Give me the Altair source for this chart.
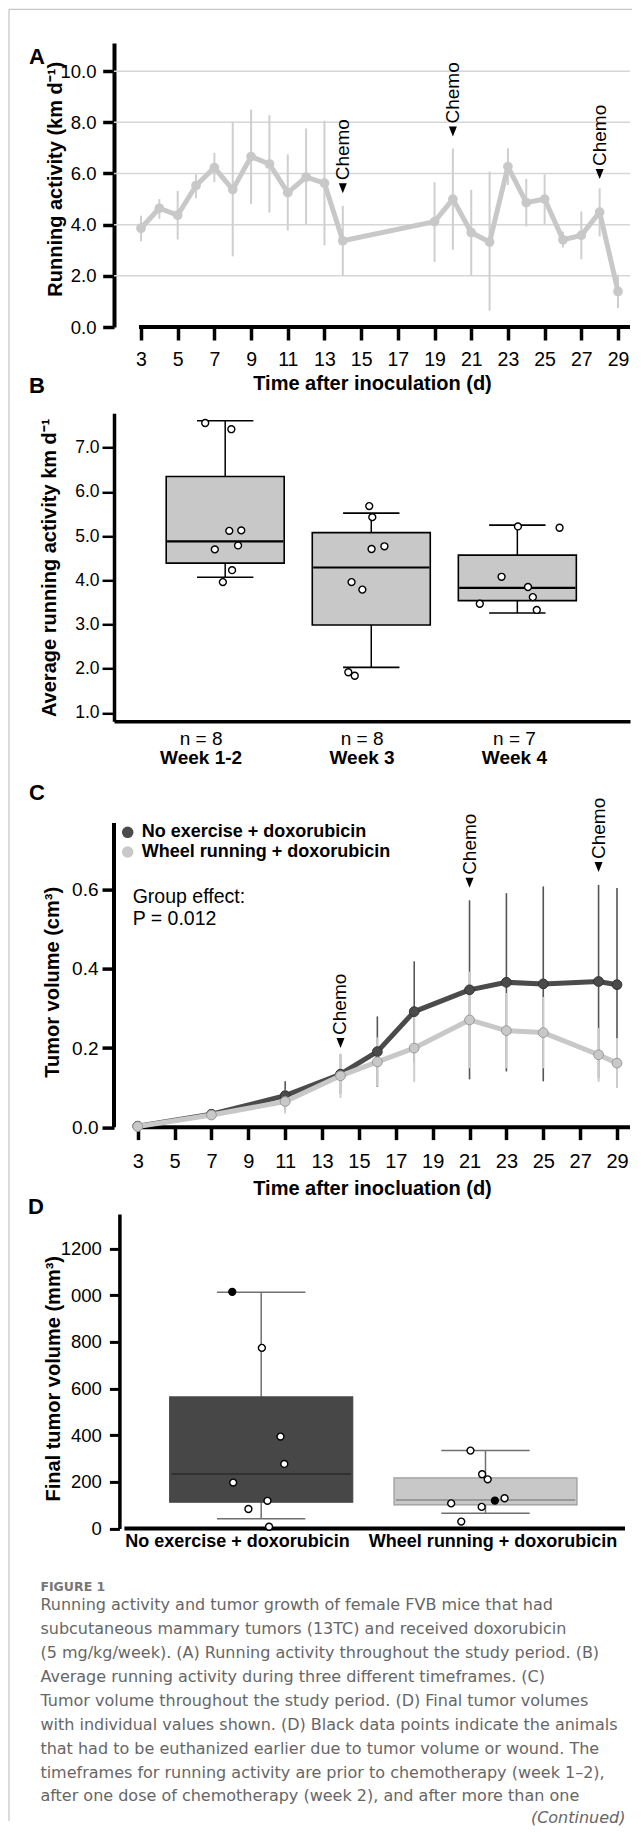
import altair as alt
import pandas as pd

FONT = "Liberation Sans, Arial, Helvetica, sans-serif"
NARROW = "Liberation Sans Narrow, Arial Narrow, Liberation Sans, Arial, sans-serif"
CAPFONT = "DejaVu Sans, Verdana, sans-serif"

# ---------------- Panel A : running activity ----------------
a_day = [3, 4, 5, 6, 7, 8, 9, 10, 11, 12, 13, 14, 19, 20, 21, 22, 23, 24, 25, 26, 27, 28, 29]
a_mean = [3.86, 4.64, 4.37, 5.53, 6.23, 5.37, 6.66, 6.37, 5.25, 5.86, 5.62, 3.37,
          4.12, 5.00, 3.69, 3.32, 6.27, 4.86, 5.00, 3.41, 3.58, 4.49, 1.39]
a_lo = [3.35, 4.23, 3.42, 5.03, 5.66, 2.76, 4.81, 4.47, 3.77, 3.99, 3.19, 2.00,
        2.54, 3.02, 2.00, 0.64, 5.55, 3.93, 4.02, 3.11, 2.65, 3.54, 0.74]
a_hi = [4.35, 5.00, 5.32, 5.97, 6.81, 8.02, 8.50, 8.28, 6.75, 7.76, 8.06, 4.73,
        5.66, 6.98, 5.36, 6.07, 6.98, 5.79, 5.97, 3.73, 4.51, 5.42, 2.04]
a_chemo_day = [14, 20, 28]
a_chemo_y = [5.42, 7.64, 5.98]
a_grid = [2, 4, 6, 8, 10]
a_yticks = [0, 2, 4, 6, 8, 10]
day_ticks = list(range(3, 30, 2))

# ---------------- Panel B : weekly average running ----------------
b_pos = [1, 2, 3]
b_week = ["Week 1-2", "Week 3", "Week 4"]
b_n = ["n = 8", "n = 8", "n = 7"]
b_label_x = [0.835, 1.937, 2.98]
b_whislo = [4.07, 2.03, 3.26]
b_q1 = [4.39, 2.99, 3.54]
b_med = [4.88, 4.29, 3.83]
b_q3 = [6.35, 5.08, 4.57]
b_whishi = [7.61, 5.52, 5.25]
b_pts_x = [0.863, 1.042, 1.028, 1.110, 0.929, 1.088, 1.047, 0.984,
           1.986, 2.007, 2.002, 2.090, 1.865, 1.939, 1.843, 1.887,
           3.004, 3.289, 2.892, 3.073, 3.106, 2.743, 3.133]
b_pts_y = [7.56, 7.42, 5.12, 5.13, 4.70, 4.79, 4.23, 3.96,
           5.68, 5.43, 4.71, 4.77, 3.96, 3.79, 1.92, 1.84,
           5.22, 5.19, 4.08, 3.85, 3.62, 3.47, 3.33]
b_yticks = [1, 2, 3, 4, 5, 6, 7]

# ---------------- Panel C : tumor volume ----------------
c_day = [3, 7, 11, 14, 16, 18, 21, 23, 25, 28, 29]
c_no_mean = [0.003, 0.033, 0.080, 0.134, 0.191, 0.292, 0.347, 0.366, 0.362, 0.368, 0.360]
c_no_sd = [0.0, 0.004, 0.036, 0.050, 0.089, 0.127, 0.226, 0.225, 0.246, 0.244, 0.244]
c_wr_mean = [0.002, 0.031, 0.065, 0.130, 0.165, 0.200, 0.271, 0.244, 0.239, 0.183, 0.162]
c_wr_sd = [0.0, 0.004, 0.030, 0.056, 0.062, 0.085, 0.122, 0.095, 0.090, 0.068, 0.063]
c_chemo_day = [14, 21, 28]
c_chemo_y = [0.213, 0.617, 0.657]
c_yticks = [0, 0.2, 0.4, 0.6]
c_series = ["No exercise + doxorubicin", "Wheel running + doxorubicin"]

# ---------------- Panel D : final tumor volume ----------------
d_pos = [1, 2]
d_group = ["No exercise + doxorubicin", "Wheel running + doxorubicin"]
d_label_x = [0.894, 2.034]
d_whislo = [42, 66]
d_q1 = [113, 101.5]
d_med = [234, 123]
d_q3 = [564, 217]
d_whishi = [1012, 334]
d_pts_x = [0.871, 1.003, 1.086, 1.103, 0.875, 1.028, 0.943, 1.035,
           1.933, 1.985, 2.010, 1.847, 2.085, 2.042, 1.983, 1.892]
d_pts_y = [1014, 774, 394, 277, 197, 119, 84, 8,
           334, 233, 211, 108, 130, 120, 93, 30]
d_pts_early = [True, False, False, False, False, False, False, False,
               False, False, False, False, False, True, False, False]
d_yticks = [0, 200, 400, 600, 800, 1000, 1200]

# ---------------- Caption ----------------
cap_lines = [
    "Running activity and tumor growth of female FVB mice that had",
    "subcutaneous mammary tumors (13TC) and received doxorubicin",
    "(5 mg/kg/week). (A) Running activity throughout the study period. (B)",
    "Average running activity during three different timeframes. (C)",
    "Tumor volume throughout the study period. (D) Final tumor volumes",
    "with individual values shown. (D) Black data points indicate the animals",
    "that had to be euthanized earlier due to tumor volume or wound. The",
    "timeframes for running activity are prior to chemotherapy (week 1\u20132),",
    "after one dose of chemotherapy (week 2), and after more than one",
]

W = 516
SPACING = 86.3
one = pd.DataFrame({"k": [0]})
TRI = "M-0.8,-1L0.8,-1L0,1Z"


def letter(t, xv, yv):
    return alt.Chart(pd.DataFrame({"t": [t]})).mark_text(
        font=FONT, fontSize=22, fontWeight="bold", align="center", baseline="middle", color="black"
    ).encode(text="t:N", x=alt.value(xv), y=alt.value(yv))


# ======================= Panel A =======================
xa = alt.Scale(domain=[1.529, 29.654], nice=False, zero=False)
ya = alt.Scale(domain=[0, 11.1], nice=False, zero=False)
axA_x = alt.Axis(values=day_ticks, tickSize=13, tickWidth=3.5, domain=False, grid=False,
                 labelFontSize=19.5, labelBaseline="middle", labelPadding=19, labelFlush=False,
                 title="Time after inoculation (d)", titleFontSize=20, titleFontWeight="bold",
                 titleY=56, titleBaseline="middle")
axA_y = alt.Axis(values=a_yticks, format=".1f", tickSize=11.3, tickWidth=3.5, domainWidth=4,
                 grid=False, labelFontSize=18.5, labelPadding=6.7,
                 title="Running activity (km d\u207b\u00b9)", titleFontSize=20, titleFontWeight="bold",
                 titleAngle=270, titleX=-58.5, titleY=135.8, titleAlign="center", titleBaseline="middle")


def XA(f):
    return alt.X(f, type="quantitative", scale=xa, axis=axA_x)


def YA(f):
    return alt.Y(f, type="quantitative", scale=ya, axis=axA_y)


dfA = pd.DataFrame({"day": a_day, "mean": a_mean, "lo": a_lo, "hi": a_hi})
dfAc = pd.DataFrame({"day": a_chemo_day, "y": a_chemo_y})

gridA = alt.Chart(pd.DataFrame({"g": a_grid})).mark_rule(color="#d6d6d6", strokeWidth=1.5).encode(y=YA("g"))
xlineA = alt.Chart(pd.DataFrame({"x0": [2.89], "x1": [29.654], "y0": [0]})).mark_rule(
    color="black", strokeWidth=4).encode(x=XA("x0"), x2="x1", y=YA("y0"))
errA = alt.Chart(dfA).mark_rule(color="#cfcfcf", strokeWidth=2).encode(x=XA("day"), y=YA("lo"), y2="hi")
lineA = alt.Chart(dfA).mark_line(color="#c8c8c8", strokeWidth=5, strokeJoin="round").encode(x=XA("day"), y=YA("mean"))
ptsA = alt.Chart(dfA).mark_circle(color="#c8c8c8", size=95, opacity=1).encode(x=XA("day"), y=YA("mean"))
triA = alt.Chart(dfAc).mark_point(shape=TRI, filled=True, color="black", size=100, opacity=1).encode(
    x=XA("day"), y=YA("y"))
txtA = alt.Chart(dfAc).mark_text(text="Chemo", angle=270, align="left", baseline="middle", dx=8,
                                 font=FONT, fontSize=19, color="black").encode(x=XA("day"), y=YA("y"))
# figure frame (left and top border of the figure box)
frameV = alt.Chart(one).mark_rule(color="#c8c8c8", strokeWidth=1.3).encode(
    x=alt.value(-105), y=alt.value(-33.7), y2=alt.value(1778))
frameH = alt.Chart(one).mark_rule(color="#c8c8c8", strokeWidth=1.3).encode(
    x=alt.value(-105), x2=alt.value(518), y=alt.value(-33.7))

panelA = alt.layer(frameV, frameH, gridA, xlineA, errA, lineA, ptsA, triA, txtA,
                   letter("A", -77, 13.8)).properties(width=W, height=284)

# ======================= Panel B =======================
xb = alt.Scale(domain=[0.273, 3.737], nice=False, zero=False)
yb = alt.Scale(domain=[0.81, 7.78], nice=False, zero=False)
axB_x = alt.Axis(labels=False, ticks=False, grid=False, domainWidth=3.5, title=None)
axB_y = alt.Axis(values=b_yticks, format=".1f", tickSize=12, tickWidth=2.5, domainWidth=3.5, grid=False,
                 labelFontSize=17.5, labelPadding=3,
                 title="Average running activity km d\u207b\u00b9", titleFontSize=20, titleFontWeight="bold",
                 titleAngle=270, titleX=-65, titleY=154, titleAlign="center", titleBaseline="middle")


def XB(f):
    return alt.X(f, type="quantitative", scale=xb, axis=axB_x)


def YB(f):
    return alt.Y(f, type="quantitative", scale=yb, axis=axB_y)


dfB = pd.DataFrame({"pos": b_pos, "lo": b_whislo, "q1": b_q1, "med": b_med, "q3": b_q3,
                    "hi": b_whishi, "week": b_week, "n": b_n, "lx": b_label_x})
dfBp = pd.DataFrame({"x": b_pts_x, "y": b_pts_y})

whB = alt.Chart(dfB).mark_rule(color="black", strokeWidth=1.5).encode(x=XB("pos"), y=YB("lo"), y2="hi")
boxB = alt.Chart(dfB).mark_bar(size=118, fill="#c8c8c8", stroke="black", strokeWidth=1.6).encode(
    x=XB("pos"), y=YB("q1"), y2="q3")
medB = alt.Chart(dfB).transform_calculate(l="datum.pos - 0.398", r="datum.pos + 0.398").mark_rule(
    color="black", strokeWidth=2.2).encode(x=XB("l"), x2="r", y=YB("med"))
capHiB = alt.Chart(dfB).transform_calculate(l="datum.pos - 0.193", r="datum.pos + 0.193").mark_rule(
    color="black", strokeWidth=1.6).encode(x=XB("l"), x2="r", y=YB("hi"))
capLoB = alt.Chart(dfB).transform_calculate(l="datum.pos - 0.193", r="datum.pos + 0.193").mark_rule(
    color="black", strokeWidth=1.6).encode(x=XB("l"), x2="r", y=YB("lo"))
ptsB = alt.Chart(dfBp).mark_point(shape="circle", filled=True, fill="white", stroke="black",
                                  strokeWidth=1.4, size=48, opacity=1).encode(x=XB("x"), y=YB("y"))
nB = alt.Chart(dfB).transform_calculate(yy="0.403").mark_text(
    font=FONT, fontSize=19, baseline="middle", align="center", color="black").encode(
    x=XB("lx"), y=YB("yy:Q"), text="n:N")
wkB = alt.Chart(dfB).transform_calculate(yy="-0.027").mark_text(
    font=FONT, fontSize=19, fontWeight="bold", baseline="middle", align="center", color="black").encode(
    x=XB("lx"), y=YB("yy:Q"), text="week:N")

panelB = alt.layer(whB, boxB, medB, capHiB, capLoB, ptsB, nB, wkB,
                   letter("B", -77, -27)).properties(width=W, height=308)

# ======================= Panel C =======================
xc = alt.Scale(domain=[1.714, 29.705], nice=False, zero=False)
yc = alt.Scale(domain=[0, 0.807], nice=False, zero=False)
axC_x = alt.Axis(values=day_ticks, tickSize=12.3, tickWidth=3.5, domain=False, grid=False,
                 labelFontSize=20, labelBaseline="middle", labelPadding=21.7, labelFlush=False,
                 title="Time after inocluation (d)", titleFontSize=20, titleFontWeight="bold",
                 titleY=60.7, titleBaseline="middle")
axC_y = alt.Axis(values=c_yticks, format=".1f", tickSize=12, tickWidth=3.5, domain=False, grid=False,
                 labelFontSize=19, labelPadding=4,
                 title="Tumor volume (cm\u00b3)", titleFontSize=20, titleFontWeight="bold",
                 titleAngle=270, titleX=-62, titleY=174.2, titleAlign="center", titleBaseline="middle")


def XC(f):
    return alt.X(f, type="quantitative", scale=xc, axis=axC_x)


def YC(f):
    return alt.Y(f, type="quantitative", scale=yc, axis=axC_y)


dfNo = pd.DataFrame({"day": c_day, "m": c_no_mean, "sd": c_no_sd})
dfWr = pd.DataFrame({"day": c_day, "m": c_wr_mean, "sd": c_wr_sd})
dfCc = pd.DataFrame({"day": c_chemo_day, "y": c_chemo_y})


def err(df, color, w):
    return alt.Chart(df).transform_calculate(lo="datum.m - datum.sd", hi="datum.m + datum.sd").mark_rule(
        color=color, strokeWidth=w).encode(x=XC("day"), y=YC("lo"), y2="hi")


xlineC = alt.Chart(pd.DataFrame({"x0": [2.89], "x1": [29.705], "y0": [0]})).mark_rule(
    color="black", strokeWidth=4).encode(x=XC("x0"), x2="x1", y=YC("y0"))
ylineC = alt.Chart(pd.DataFrame({"x0": [1.714], "y0": [0], "y1": [0.768]})).mark_rule(
    color="black", strokeWidth=4).encode(x=XC("x0"), y=YC("y0"), y2="y1")
errNo = err(dfNo, "#555555", 1.6)
errWr = err(dfWr, "#cccccc", 2)
lineNo = alt.Chart(dfNo).mark_line(color="#4b4b4b", strokeWidth=5, strokeJoin="round").encode(x=XC("day"), y=YC("m"))
ptsNo = alt.Chart(dfNo).mark_point(shape="circle", filled=True, fill="#4b4b4b", stroke="#333333",
                                   strokeWidth=1, size=95, opacity=1).encode(x=XC("day"), y=YC("m"))
lineWr = alt.Chart(dfWr).mark_line(color="#c8c8c8", strokeWidth=5, strokeJoin="round").encode(x=XC("day"), y=YC("m"))
ptsWr = alt.Chart(dfWr).mark_point(shape="circle", filled=True, fill="#c8c8c8", stroke="#9a9a9a",
                                   strokeWidth=1, size=95, opacity=1).encode(x=XC("day"), y=YC("m"))
triC = alt.Chart(dfCc).mark_point(shape=TRI, filled=True, color="black", size=100, opacity=1).encode(
    x=XC("day"), y=YC("y"))
txtC = alt.Chart(dfCc).mark_text(text="Chemo", angle=270, align="left", baseline="middle", dx=8,
                                 font=FONT, fontSize=19, color="black").encode(x=XC("day"), y=YC("y"))
legC = []
for i, (name, col) in enumerate(zip(c_series, ["#4b4b4b", "#c8c8c8"])):
    yy = 24.7 + 19.7 * i
    legC.append(alt.Chart(one).mark_circle(color=col, size=135, opacity=1).encode(
        x=alt.value(13.7), y=alt.value(yy)))
    legC.append(alt.Chart(pd.DataFrame({"t": [name]})).mark_text(
        font=FONT, fontSize=18, fontWeight="bold", align="left", baseline="middle", color="black").encode(
        text="t:N", x=alt.value(27.7), y=alt.value(yy)))
grpC = alt.Chart(pd.DataFrame({"t": ["Group effect:", "P = 0.012"], "yy": [89.4, 111.0]})).mark_text(
    font=FONT, fontSize=19.5, align="left", baseline="middle", color="black").encode(
    text="t:N", x=alt.value(18.7), y=alt.Y("yy:Q", scale=None))

panelC = alt.layer(xlineC, ylineC, errNo, errWr, lineNo, ptsNo, lineWr, ptsWr, triC, txtC,
                   *legC, grpC, letter("C", -77, -14.6)).properties(width=W, height=319.7)

# ======================= Panel D =======================
xd = alt.Scale(domain=[0.366, 2.622], nice=False, zero=False)
yd = alt.Scale(domain=[0, 1347.8], nice=False, zero=False)
axD_x = alt.Axis(labels=False, ticks=False, grid=False, domain=False, title=None)
axD_y = alt.Axis(values=d_yticks, format="d", tickSize=10, tickWidth=3, domainWidth=3.5, grid=False, offset=-5.4,
                 labelFont=NARROW, labelFontSize=18.5, labelPadding=8,
                 labelExpr="datum.value == 1000 ? '000' : datum.label",
                 title="Final tumor volume (mm\u00b3)", titleFontSize=20, titleFontWeight="bold",
                 titleAngle=270, titleX=-66, titleY=164.4, titleAlign="center", titleBaseline="middle")


def XD(f):
    return alt.X(f, type="quantitative", scale=xd, axis=axD_x)


def YD(f):
    return alt.Y(f, type="quantitative", scale=yd, axis=axD_y)


dfD = pd.DataFrame({"pos": d_pos, "lo": d_whislo, "q1": d_q1, "med": d_med, "q3": d_q3, "hi": d_whishi,
                    "grp": d_group, "lx": d_label_x,
                    "fill": ["#474747", "#c8c8c8"], "stroke": ["#474747", "#9a9a9a"],
                    "medc": ["#2a2a2a", "#8a8a8a"]})
dfDp = pd.DataFrame({"x": d_pts_x, "y": d_pts_y,
                     "f": ["black" if e else "white" for e in d_pts_early]})

xlineD = alt.Chart(pd.DataFrame({"x0": [0.39], "x1": [2.622], "y0": [0]})).mark_rule(
    color="black", strokeWidth=4).encode(x=XD("x0"), x2="x1", y=YD("y0"))
whD = alt.Chart(dfD).mark_rule(color="#707070", strokeWidth=1.5).encode(x=XD("pos"), y=YD("lo"), y2="hi")
boxD = alt.Chart(dfD).mark_bar(size=183, strokeWidth=1.2).encode(
    x=XD("pos"), y=YD("q1"), y2="q3",
    fill=alt.Fill("fill:N", scale=None), stroke=alt.Stroke("stroke:N", scale=None))
medD = alt.Chart(dfD).transform_calculate(l="datum.pos - 0.4", r="datum.pos + 0.4").mark_rule(
    strokeWidth=1.5).encode(x=XD("l"), x2="r", y=YD("med"), color=alt.Color("medc:N", scale=None))
capHiD = alt.Chart(dfD).transform_calculate(l="datum.pos - 0.197", r="datum.pos + 0.197").mark_rule(
    color="#707070", strokeWidth=1.5).encode(x=XD("l"), x2="r", y=YD("hi"))
capLoD = alt.Chart(dfD).transform_calculate(l="datum.pos - 0.197", r="datum.pos + 0.197").mark_rule(
    color="#707070", strokeWidth=1.5).encode(x=XD("l"), x2="r", y=YD("lo"))
ptsD = alt.Chart(dfDp).mark_point(shape="circle", filled=True, stroke="black", strokeWidth=1.4,
                                  size=48, opacity=1).encode(
    x=XD("x"), y=YD("y"), fill=alt.Fill("f:N", scale=None))
lblD = alt.Chart(dfD).transform_calculate(yy="-58.7").mark_text(
    font=FONT, fontSize=18, fontWeight="bold", align="center", baseline="middle", color="black").encode(
    x=XD("lx"), y=YD("yy:Q"), text="grp:N")

panelD = alt.layer(xlineD, whD, boxD, medD, capHiD, capLoD, ptsD, lblD,
                   letter("D", -78, -7.3)).properties(width=W, height=314.7)

# ======================= Caption =======================
ycap = alt.Scale(domain=[0.418, 8.786], reverse=True, nice=False, zero=False)
dfCap = pd.DataFrame({"t": cap_lines, "i": list(range(len(cap_lines)))})
capTxt = alt.Chart(dfCap).mark_text(font=CAPFONT, fontSize=16, color="#666666", align="left",
                                    baseline="middle").encode(
    text="t:N", x=alt.value(-73.6), y=alt.Y("i:Q", scale=ycap, axis=None))
figTxt = alt.Chart(pd.DataFrame({"t": ["FIGURE 1"], "i": [-0.766]})).mark_text(
    font=CAPFONT, fontSize=12.5, fontWeight="bold", color="#777777", align="left", baseline="middle").encode(
    text="t:N", x=alt.value(-73.6), y=alt.Y("i:Q", scale=ycap, axis=None))
contTxt = alt.Chart(pd.DataFrame({"t": ["(Continued)"], "i": [8.9]})).mark_text(
    font=CAPFONT, fontSize=16, fontStyle="italic", color="#666666", align="right", baseline="middle").encode(
    text="t:N", x=alt.value(511.5), y=alt.Y("i:Q", scale=ycap, axis=None))

panelE = alt.layer(capTxt, figTxt, contTxt).properties(width=W, height=200)

chart = alt.vconcat(panelA, panelB, panelC, panelD, panelE, spacing=SPACING, bounds="flush").properties(
    padding=0
).configure_view(stroke=None).configure_axis(
    labelFont=FONT, titleFont=FONT, labelColor="black", titleColor="black",
    domainColor="black", tickColor="black"
).configure_text(font=FONT)

chart.save("out.html", embed_options={"renderer": "svg", "actions": False})
